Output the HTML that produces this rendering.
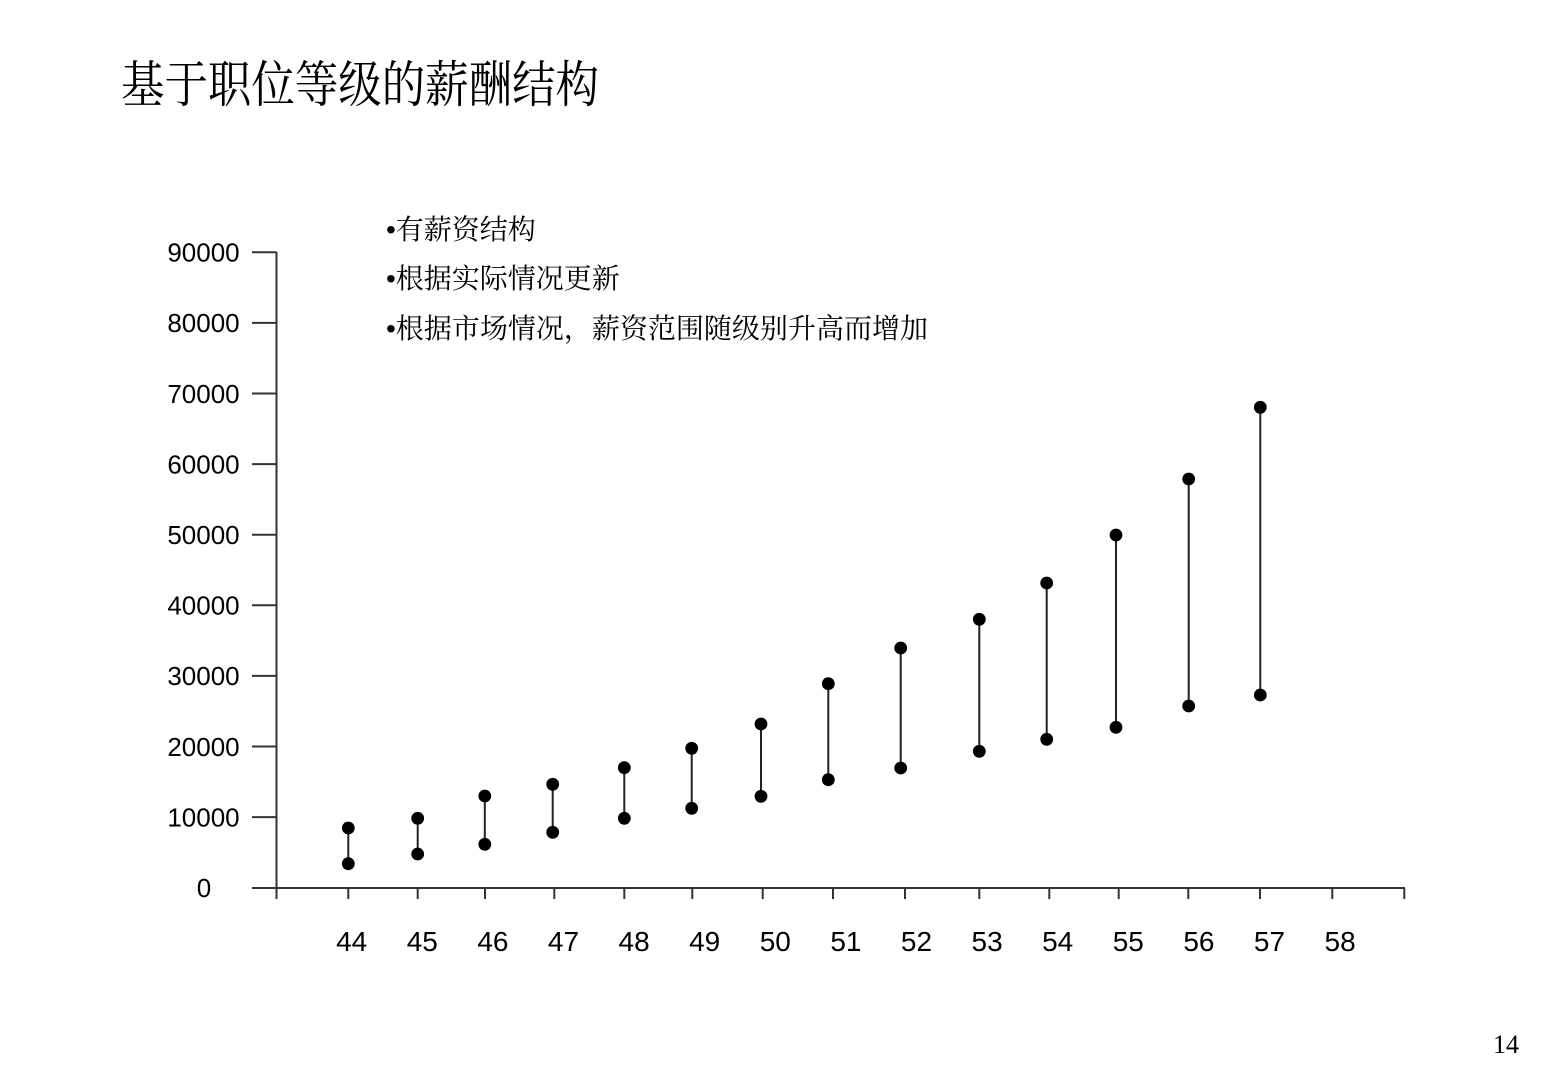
<!DOCTYPE html>
<html>
<head>
<meta charset="utf-8">
<style>
html,body{margin:0;padding:0;background:#fff;}
svg{display:block;}
</style>
</head>
<body>
<svg width="1560" height="1080" viewBox="0 0 1560 1080" xmlns="http://www.w3.org/2000/svg">
<rect width="1560" height="1080" fill="#fff"/>
<!-- Title -->
<text x="121" y="102" font-family="'Noto Serif CJK SC',serif" font-size="50" fill="#000" textLength="478" lengthAdjust="spacingAndGlyphs">基于职位等级的薪酬结构</text>
<!-- Bullets -->
<g font-family="'Liberation Sans','Noto Serif CJK SC',serif" font-size="28" fill="#000">
<text x="386" y="239">•有薪资结构</text>
<text x="386" y="288">•根据实际情况更新</text>
<text x="386" y="338" textLength="542" lengthAdjust="spacingAndGlyphs">•根据市场情况，薪资范围随级别升高而增加</text>
</g>
<!-- Axes -->
<g stroke="#333" stroke-width="2" fill="none">
<line x1="276.5" y1="252" x2="276.5" y2="899"/>
<line x1="252" y1="888" x2="1405" y2="888"/>
<line x1="252" y1="252.3" x2="276.5" y2="252.3"/>
<line x1="252" y1="322.9" x2="276.5" y2="322.9"/>
<line x1="252" y1="393.5" x2="276.5" y2="393.5"/>
<line x1="252" y1="464.1" x2="276.5" y2="464.1"/>
<line x1="252" y1="534.7" x2="276.5" y2="534.7"/>
<line x1="252" y1="605.3" x2="276.5" y2="605.3"/>
<line x1="252" y1="675.9" x2="276.5" y2="675.9"/>
<line x1="252" y1="746.5" x2="276.5" y2="746.5"/>
<line x1="252" y1="817.1" x2="276.5" y2="817.1"/>
<line x1="348.3" y1="888" x2="348.3" y2="899"/>
<line x1="417.7" y1="888" x2="417.7" y2="899"/>
<line x1="485" y1="888" x2="485" y2="899"/>
<line x1="554.3" y1="888" x2="554.3" y2="899"/>
<line x1="624.3" y1="888" x2="624.3" y2="899"/>
<line x1="692.3" y1="888" x2="692.3" y2="899"/>
<line x1="762.7" y1="888" x2="762.7" y2="899"/>
<line x1="833" y1="888" x2="833" y2="899"/>
<line x1="905" y1="888" x2="905" y2="899"/>
<line x1="979.3" y1="888" x2="979.3" y2="899"/>
<line x1="1049.3" y1="888" x2="1049.3" y2="899"/>
<line x1="1118.7" y1="888" x2="1118.7" y2="899"/>
<line x1="1188.3" y1="888" x2="1188.3" y2="899"/>
<line x1="1260" y1="888" x2="1260" y2="899"/>
<line x1="1332.3" y1="888" x2="1332.3" y2="899"/>
<line x1="1404.3" y1="888" x2="1404.3" y2="899"/>
</g>
<!-- Y labels -->
<g font-family="'Liberation Sans',Arial,sans-serif" font-size="26" fill="#000" text-anchor="middle">
<text x="203.5" y="261.6">90000</text>
<text x="203.5" y="332.2">80000</text>
<text x="203.5" y="402.8">70000</text>
<text x="203.5" y="473.4">60000</text>
<text x="203.5" y="544">50000</text>
<text x="203.5" y="614.6">40000</text>
<text x="203.5" y="685.2">30000</text>
<text x="203.5" y="755.8">20000</text>
<text x="203.5" y="826.4">10000</text>
<text x="204" y="897">0</text>
</g>
<!-- X labels -->
<g font-family="'Liberation Sans',Arial,sans-serif" font-size="28" fill="#000" text-anchor="middle">
<text x="351.7" y="951">44</text>
<text x="422.3" y="951">45</text>
<text x="492.9" y="951">46</text>
<text x="563.5" y="951">47</text>
<text x="634.1" y="951">48</text>
<text x="704.7" y="951">49</text>
<text x="775.3" y="951">50</text>
<text x="845.9" y="951">51</text>
<text x="916.5" y="951">52</text>
<text x="987.1" y="951">53</text>
<text x="1057.7" y="951">54</text>
<text x="1128.3" y="951">55</text>
<text x="1198.9" y="951">56</text>
<text x="1269.5" y="951">57</text>
<text x="1340.1" y="951">58</text>
</g>
<!-- Range bars -->
<g stroke="#222" stroke-width="2">
<line x1="348.3" y1="828" x2="348.3" y2="863.7"/>
<line x1="417.7" y1="818.3" x2="417.7" y2="854"/>
<line x1="484.8" y1="796" x2="484.8" y2="844.3"/>
<line x1="552.7" y1="784.3" x2="552.7" y2="832.3"/>
<line x1="624.3" y1="767.7" x2="624.3" y2="818.3"/>
<line x1="691.7" y1="748.3" x2="691.7" y2="808.3"/>
<line x1="761" y1="724" x2="761" y2="796.3"/>
<line x1="828.3" y1="683.7" x2="828.3" y2="779.7"/>
<line x1="900.7" y1="648" x2="900.7" y2="768"/>
<line x1="979.3" y1="619.3" x2="979.3" y2="751.3"/>
<line x1="1046.7" y1="583" x2="1046.7" y2="739.3"/>
<line x1="1116" y1="535" x2="1116" y2="727.3"/>
<line x1="1188.7" y1="479" x2="1188.7" y2="706"/>
<line x1="1260.3" y1="407.3" x2="1260.3" y2="695"/>
</g>
<g fill="#000">
<circle cx="348.3" cy="828" r="6.4"/><circle cx="348.3" cy="863.7" r="6.4"/>
<circle cx="417.7" cy="818.3" r="6.4"/><circle cx="417.7" cy="854" r="6.4"/>
<circle cx="484.8" cy="796" r="6.4"/><circle cx="484.8" cy="844.3" r="6.4"/>
<circle cx="552.7" cy="784.3" r="6.4"/><circle cx="552.7" cy="832.3" r="6.4"/>
<circle cx="624.3" cy="767.7" r="6.4"/><circle cx="624.3" cy="818.3" r="6.4"/>
<circle cx="691.7" cy="748.3" r="6.4"/><circle cx="691.7" cy="808.3" r="6.4"/>
<circle cx="761" cy="724" r="6.4"/><circle cx="761" cy="796.3" r="6.4"/>
<circle cx="828.3" cy="683.7" r="6.4"/><circle cx="828.3" cy="779.7" r="6.4"/>
<circle cx="900.7" cy="648" r="6.4"/><circle cx="900.7" cy="768" r="6.4"/>
<circle cx="979.3" cy="619.3" r="6.4"/><circle cx="979.3" cy="751.3" r="6.4"/>
<circle cx="1046.7" cy="583" r="6.4"/><circle cx="1046.7" cy="739.3" r="6.4"/>
<circle cx="1116" cy="535" r="6.4"/><circle cx="1116" cy="727.3" r="6.4"/>
<circle cx="1188.7" cy="479" r="6.4"/><circle cx="1188.7" cy="706" r="6.4"/>
<circle cx="1260.3" cy="407.3" r="6.4"/><circle cx="1260.3" cy="695" r="6.4"/>
</g>
<!-- Page number -->
<text x="1493" y="1053" font-family="'Liberation Serif',serif" font-size="26" fill="#000">14</text>
</svg>
</body>
</html>
